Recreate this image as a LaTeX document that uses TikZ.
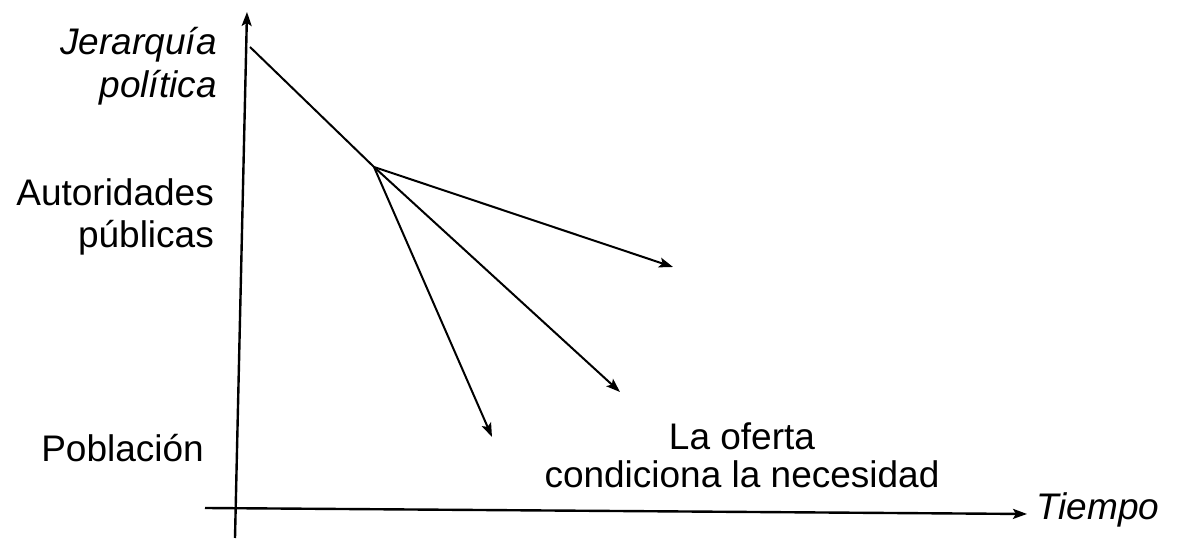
\documentclass[tikz,border=0pt]{standalone}
\usepackage{fontspec}
\setmainfont{Liberation Sans}
\usetikzlibrary{arrows.meta}

\begin{document}
\begin{tikzpicture}[>={Stealth[length=7pt,width=5pt,inset=1.5pt]},x=0.5pt,y=-0.5pt,line width=1.2pt,
	axis label/.style={font=\fontsize{18.5}{21}\selectfont,inner sep=0pt},
	italic label/.style={axis label,font=\fontsize{18.5}{21.5}\selectfont\itshape},
	trend/.style={->,line width=1pt}]
	
	\useasboundingbox (0,0) rectangle (1180,539);
	
	% ejes
	\coordinate (o) at (235,538);
	\coordinate (ytop) at (247,12);
	\coordinate (xleft) at (205,508);
	\coordinate (xright) at (1027,514);
	\draw[->] (o) -- (ytop);
	\draw[->] (xleft) -- (xright);
	
	% trayectorias
	\coordinate (start) at (250,47);
	\coordinate (split) at (374,167);
	\coordinate (flat) at (673,267);
	\coordinate (mid) at (620,392);
	\coordinate (steep) at (492,437);
	\draw[line width=1pt] (start) -- (split);
	\draw[trend] (split) -- (flat);
	\draw[trend] (split) -- (mid);
	\draw[trend] (split) -- (steep);
	
	\node[italic label,anchor=base east,align=right] (jer) at (218,98) {Jerarquía\\política};
	\node[axis label,anchor=base east,align=right] (aut) at (215,248) {Autoridades\\públicas};
	\node[axis label,anchor=base east] (pob) at (205,462) {Población};
	\node[axis label,font=\fontsize{18.5}{19}\selectfont,anchor=base,align=center] (oferta) at (742,488) {La oferta\\condiciona la necesidad};
	\node[italic label,anchor=base west] (tiempo) at (1035,520) {Tiempo};
\end{tikzpicture}
\end{document}
